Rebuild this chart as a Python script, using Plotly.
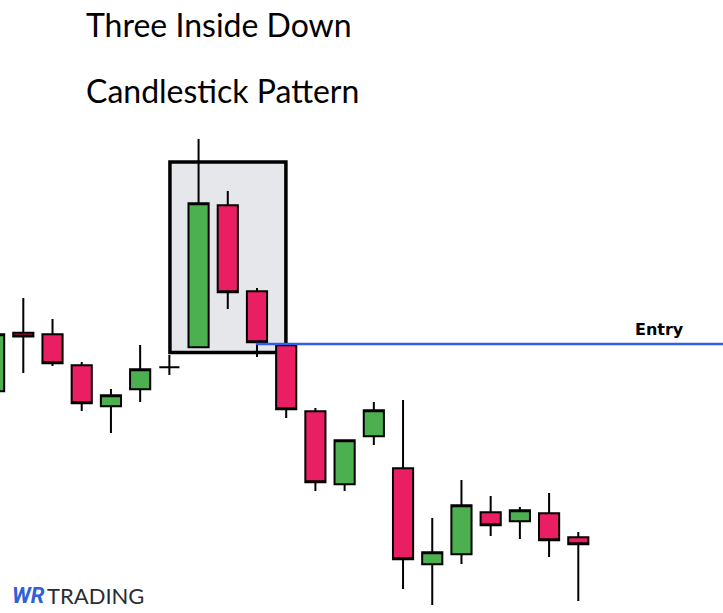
import plotly.graph_objects as go

# Candle index positions and OHLC values (chart price units)
idx = list(range(21))
opens = [221.7, 280.2, 278.7, 247.7, 206.7, 223.7, 245.7, 265.7, 407.7, 321.7, 267.7,
         201.7, 128.7, 176.7, 144.7, 48.7, 58.7, 100.7, 91.7, 99.7, 75.7]
highs = [278.7, 315, 294, 251, 224, 268, 258, 474, 422, 325, 267.7,
         205, 172.7, 211, 213, 95, 133, 117, 106, 120, 81]
lows = [221.7, 240, 247, 202, 180, 211, 238, 265.7, 304, 256, 195,
        122, 122, 168, 24, 8, 49, 77, 74, 56, 12]
closes = [278.7, 276.4, 249.7, 209.7, 217.7, 243.7, 245.7, 409.7, 320.7, 270.7, 203.7,
          130.7, 172.7, 202.7, 53.7, 60.7, 107.7, 87.7, 102.7, 72.7, 68.7]

pattern_x = [6.02, 9.99]
pattern_y = [260.5, 451]
entry_price = 269
entry_start = 8.96

title_lines = ["Three Inside Down", "Candlestick Pattern"]
entry_label = "Entry"

W, H = 723, 613
px_per_idx = 29.21
x_lo = 0.202
x_hi = x_lo + W / px_per_idx

fig = go.Figure()

fig.add_trace(go.Candlestick(
    x=idx, open=opens, high=highs, low=lows, close=closes,
    increasing=dict(fillcolor="#4CAF50", line=dict(color="black", width=2)),
    decreasing=dict(fillcolor="#E91E63", line=dict(color="black", width=2)),
    whiskerwidth=0,
    showlegend=False,
    hoverinfo="skip",
))

# Highlight box (behind candles)
fig.add_shape(type="rect", xref="x", yref="y",
              x0=pattern_x[0], x1=pattern_x[1], y0=pattern_y[0], y1=pattern_y[1],
              line=dict(color="black", width=3.5), fillcolor="#e6e7eb", layer="below")

# Entry line (above candles)
fig.add_shape(type="line", xref="x", yref="y",
              x0=entry_start, x1=x_hi + 1, y0=entry_price, y1=entry_price,
              line=dict(color="#2f5fe8", width=2.6), layer="above")

fig.add_annotation(xref="paper", yref="paper", x=659 / W, y=1 - 329 / H,
                   text="<b>" + entry_label + "</b>", showarrow=False,
                   xanchor="center", yanchor="middle",
                   font=dict(family="DejaVu Sans", size=16, color="black"))

fig.add_annotation(xref="paper", yref="paper", x=84 / W, y=1 - 25 / H,
                   text=title_lines[0], showarrow=False, xanchor="left", yanchor="middle",
                   font=dict(family="Lato", size=32, color="black"))
fig.add_annotation(xref="paper", yref="paper", x=84 / W, y=1 - 90 / H,
                   text=title_lines[1], showarrow=False, xanchor="left", yanchor="middle",
                   font=dict(family="Lato", size=32, color="black"))

# Logo
fig.add_annotation(xref="paper", yref="paper", x=10 / W, y=1 - 595 / H,
                   text="<b><i>WR</i></b>", showarrow=False, xanchor="left", yanchor="middle",
                   font=dict(family="Roboto", size=22, color="#2f62d6"))
fig.add_annotation(xref="paper", yref="paper", x=45 / W, y=1 - 595 / H,
                   text="TRADING", showarrow=False, xanchor="left", yanchor="middle",
                   font=dict(family="Lato", size=22, color="#2a2d34"))

fig.update_layout(
    width=W, height=H,
    margin=dict(l=0, r=0, t=0, b=0),
    paper_bgcolor="white", plot_bgcolor="white",
    boxgap=0.31, boxgroupgap=0,
    xaxis=dict(range=[x_lo, x_hi], visible=False, rangeslider=dict(visible=False), fixedrange=True),
    yaxis=dict(range=[0, H], visible=False, fixedrange=True),
    showlegend=False,
)

fig.write_html("out.html", config={"displayModeBar": False},
               post_script="document.body.style.margin='0';document.body.style.overflow='hidden';")
